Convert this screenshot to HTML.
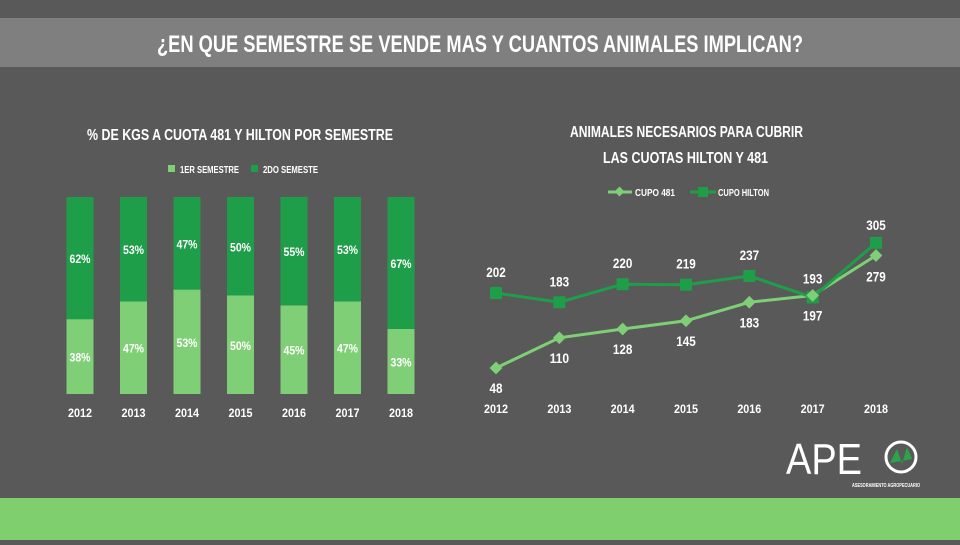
<!DOCTYPE html>
<html><head><meta charset="utf-8"><style>
body{margin:0;width:960px;height:540px;background:#595959;overflow:hidden;font-family:"Liberation Sans",sans-serif;}
svg text{font-family:"Liberation Sans",sans-serif;font-weight:bold;fill:#fff;}
</style></head><body>
<svg width="960" height="540">
<rect x="0" y="18" width="960" height="49" fill="#7f7f7f"/>
<text x="157" y="52" font-size="24" textLength="646" lengthAdjust="spacingAndGlyphs">¿EN QUE SEMESTRE SE VENDE MAS Y CUANTOS ANIMALES IMPLICAN?</text>
<rect x="0" y="498" width="960" height="42" fill="#7fcf6f"/>
<text x="87" y="140" font-size="16" textLength="306" lengthAdjust="spacingAndGlyphs">% DE KGS A CUOTA 481 Y HILTON POR SEMESTRE</text>
<rect x="168" y="165" width="7" height="7" fill="#7fcf76"/>
<text x="180" y="173" font-size="10" textLength="59" lengthAdjust="spacingAndGlyphs">1ER SEMESTRE</text>
<rect x="251" y="165" width="7" height="7" fill="#1e9e48"/>
<text x="263" y="173" font-size="10" textLength="55" lengthAdjust="spacingAndGlyphs">2DO SEMESTE</text>
<g id="bars"></g>
<text x="570" y="137" font-size="16" textLength="233" lengthAdjust="spacingAndGlyphs">ANIMALES NECESARIOS PARA CUBRIR</text>
<text x="603" y="163" font-size="16" textLength="165" lengthAdjust="spacingAndGlyphs">LAS CUOTAS HILTON Y 481</text>
<line x1="608" y1="192" x2="632" y2="192" stroke="#7fcf76" stroke-width="3"/>
<rect x="616" y="188" width="7" height="7" transform="rotate(45 619.5 191.5)" fill="#7fcf76"/>
<text x="635" y="196" font-size="10" textLength="40" lengthAdjust="spacingAndGlyphs">CUPO 481</text>
<line x1="690" y1="192" x2="716" y2="192" stroke="#1e9e48" stroke-width="3"/>
<rect x="698" y="187" width="10" height="10" fill="#1e9e48"/>
<text x="718" y="196" font-size="10" textLength="51" lengthAdjust="spacingAndGlyphs">CUPO HILTON</text>
<g id="lines"></g>
<text x="786" y="474" font-size="44" textLength="76" lengthAdjust="spacingAndGlyphs" style="font-weight:normal">APE</text>
<circle cx="901" cy="457" r="15" fill="none" stroke="#fff" stroke-width="3"/>
<path d="M890 463 L897 449 L902 464 L907 447 L912 459 Z" fill="#2aa64a"/>
<text x="852" y="487" font-size="5" textLength="68" lengthAdjust="spacingAndGlyphs">ASESORAMIENTO AGROPECUARIO</text>
</svg>
<script>
const years=["2012","2013","2014","2015","2016","2017","2018"];
const sem1=[38,47,53,50,45,47,33];
const sem2=[62,53,47,50,55,53,67];
const cupo481=[48,110,128,145,183,197,279];
const hilton=[202,183,220,219,237,193,305];
const NS="http://www.w3.org/2000/svg";
function mk(tag,attrs,parent,txt){const e=document.createElementNS(NS,tag);for(const k in attrs)e.setAttribute(k,attrs[k]);if(txt!==undefined)e.textContent=txt;parent.appendChild(e);return e;}
function txt(x,y,s,fs,cw,parent){return mk('text',{x:x,y:y,'text-anchor':'middle','font-size':fs,textLength:String(s).length*cw,lengthAdjust:'spacingAndGlyphs'},parent,s);}
const bx=i=>80+i*53.5, bTop=197, bBot=394, bh=p=>(bBot-bTop)*p/100;
const bars=document.getElementById('bars');
years.forEach((y,i)=>{
 const tot=sem1[i]+sem2[i];
 const h1=bh(sem1[i]*100/tot), h2=bh(sem2[i]*100/tot);
 const r1=mk('rect',{x:bx(i)-13.5,y:bBot-h1,width:27,height:h1,fill:'#7fcf76'},bars);
 
 
 const r2=mk('rect',{x:bx(i)-13.5,y:bBot-h1-h2,width:27,height:h2,fill:'#1e9e48'},bars);
 
 
 const t1=txt(bx(i),bBot-h1/2+5,sem1[i]+'%',12,7,bars);
 
 
 const t2=txt(bx(i),bBot-h1-h2/2+5,sem2[i]+'%',12,7,bars);
 
 
 const ty=txt(bx(i),417,y,12,6,bars);
 
 
});
const lx=i=>496+i*63.33, ly=v=>368-(v-48)*0.487;
const lg=document.getElementById('lines');
const p481=mk('polyline',{points:cupo481.map((v,i)=>lx(i)+','+ly(v)).join(' '),fill:'none',stroke:'#7fcf76','stroke-width':3},lg);


const ph=mk('polyline',{points:hilton.map((v,i)=>lx(i)+','+ly(v)).join(' '),fill:'none',stroke:'#1e9e48','stroke-width':3},lg);


years.forEach((y,i)=>{
 const h=mk('rect',{x:lx(i)-6,y:ly(hilton[i])-6,width:12,height:12,fill:'#1e9e48'},lg);
 
 
 const d=mk('rect',{x:lx(i)-4.5,y:ly(cupo481[i])-4.5,width:9,height:9,fill:'#7fcf76',transform:`rotate(45 ${lx(i)} ${ly(cupo481[i])})`},lg);
 
 
 const th=txt(lx(i),ly(hilton[i])-(i==5?14:i==6?13:16),hilton[i],14,6.5,lg);
 
 
 const t4=txt(lx(i),ly(cupo481[i])+(i==6?26:25),cupo481[i],14,6.5,lg);
 
 
 const tx=txt(lx(i),413,y,12,6,lg);
 
 
});
</script>
</body></html>
